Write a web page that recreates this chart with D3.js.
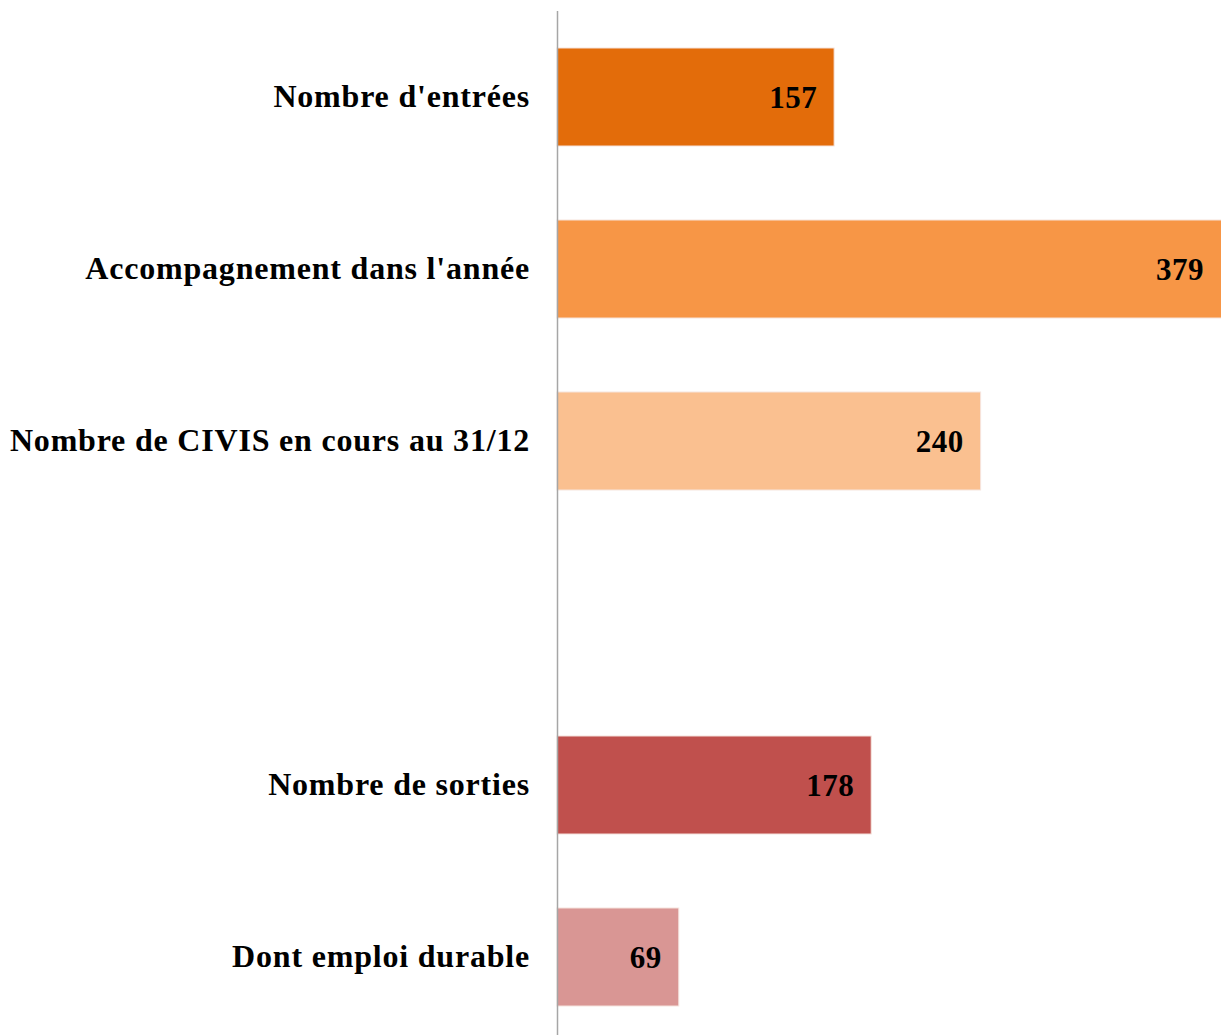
<!DOCTYPE html>
<html>
<head>
<meta charset="utf-8">
<script src="https://cdn.jsdelivr.net/npm/d3@7.9.0/dist/d3.min.js"></script>
<style>
  body { margin: 0; background: #fff; }
  svg text { font-family: "Liberation Serif", "DejaVu Serif", serif; font-weight: bold; fill: #000; }
</style>
</head>
<body>
<svg width="1221" height="1035"></svg>
<script>
// data (the empty category is the gap in the chart)
const categories = ["Nombre d'entrées", "Accompagnement dans l'année", "Nombre de CIVIS en cours au 31/12", "", "Nombre de sorties", "Dont emploi durable"];
const values = [157, 379, 240, null, 178, 69];
const colors = ["#E36C0A", "#F79646", "#FAC090", "#FFFFFF", "#C0504D", "#D99694"];

const svg = d3.select('svg');
const x0 = 557;

let x = d3.scaleLinear().domain([0, 379]).range([x0, 1226]);
let y = d3.scaleBand()
  .domain(d3.range(categories.length))
  .range([11, 1043])
  .paddingInner(0.43)
  .paddingOuter(0.215);

let rows = categories.map((c, i) => ({ label: c, value: values[i], color: colors[i], i }));

// bars
svg.selectAll('rect.bar')
  .data(rows.filter(d => d.value != null))
  .join('rect')
  .attr('class', 'bar')
  .attr('x', x(0))
  .attr('y', d => y(d.i))
  .attr('width', d => x(d.value) - x(0))
  .attr('height', y.bandwidth())
  .attr('fill', d => d.color)
  .attr('stroke', '#f6e6e0')
  .attr('stroke-width', 1);

// value labels inside bar ends
svg.selectAll('text.val')
  .data(rows.filter(d => d.value != null))
  .join('text')
  .attr('class', 'val')
  .attr('x', d => Math.min(x(d.value), 1221) - 17)
  .attr('y', d => y(d.i) + y.bandwidth() / 2)
  .attr('dy', '0.34em')
  .attr('text-anchor', 'end')
  .attr('font-size', 31)
  .attr('letter-spacing', 0.5)
  .text(d => d.value);

// category labels
svg.selectAll('text.cat')
  .data(rows)
  .join('text')
  .attr('class', 'cat')
  .attr('x', 530)
  .attr('y', d => y(d.i) + y.bandwidth() / 2)
  .attr('dy', '0.32em')
  .attr('text-anchor', 'end')
  .attr('font-size', 32)
  .attr('letter-spacing', 0.8)
  .text(d => d.label);

// vertical axis line
svg.append('line')
  .attr('x1', x0 + 0.5).attr('x2', x0 + 0.5)
  .attr('y1', 11).attr('y2', 1035)
  .attr('stroke', '#a6a6a6')
  .attr('stroke-width', 1.5);
</script>
</body>
</html>
